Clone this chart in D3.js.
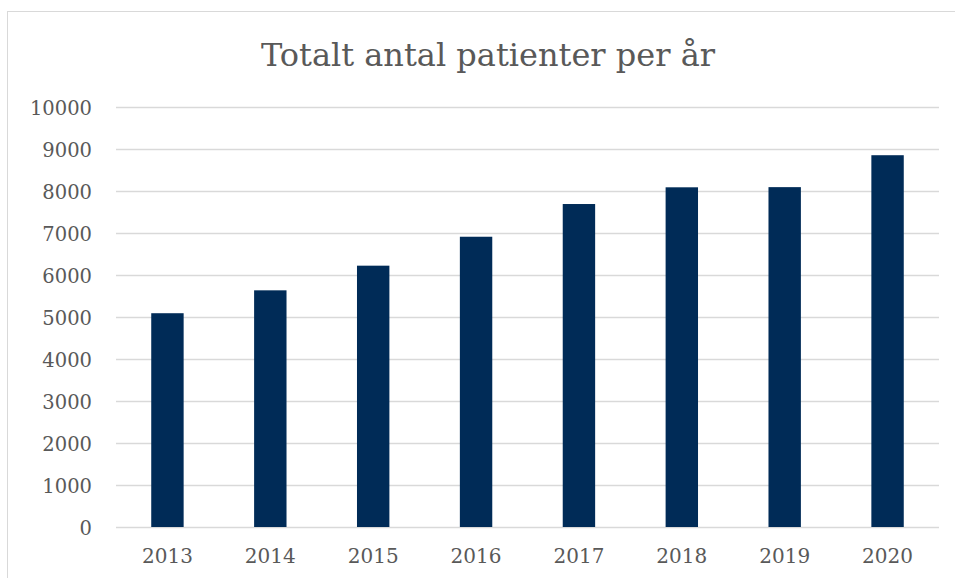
<!DOCTYPE html>
<html>
<head>
<meta charset="utf-8">
<script src="https://cdn.jsdelivr.net/npm/d3@7"></script>
<style>
  body { margin: 0; background: #fff; }
  text { font-family: "DejaVu Serif", "Liberation Serif", serif; fill: #595959; }
</style>
</head>
<body>
<script>
// data
var years = ["2013", "2014", "2015", "2016", "2017", "2018", "2019", "2020"];
var patients = [5090, 5635, 6222, 6911, 7690, 8088, 8092, 8852];
var yTicks = [0, 1000, 2000, 3000, 4000, 5000, 6000, 7000, 8000, 9000, 10000];

var width = 955, height = 578;
var margin = { top: 107, right: 16, bottom: 51, left: 116 };

var svg = d3.select("body")
    .append("svg")
    .attr("width", width)
    .attr("height", height);

// chart frame (runs off the right and bottom edge)
svg.append("rect")
    .attr("x", 7.5)
    .attr("y", 11.5)
    .attr("width", 980)
    .attr("height", 600)
    .attr("fill", "none")
    .attr("stroke", "#d9d9d9");

var x = d3.scaleBand()
    .domain(years)
    .range([margin.left, width - margin.right])
    .paddingInner(0.685)
    .paddingOuter(0.3425);

var y = d3.scaleLinear()
    .domain([0, 10000])
    .range([height - margin.bottom, margin.top]);

// gridlines + y labels
var yAxis = d3.axisLeft(y)
    .tickValues(yTicks)
    .tickSize(-(width - margin.left - margin.right))
    .tickPadding(24)
    .tickFormat(d3.format("d"));

svg.append("g")
    .attr("transform", "translate(" + margin.left + ",0)")
    .call(yAxis)
    .call(function (g) {
        g.select(".domain").remove();
        g.selectAll(".tick line").attr("stroke", "#d9d9d9").attr("stroke-width", 1.3);
        g.selectAll(".tick text")
            .style("font-size", "19.5px")
            .attr("dy", "0.4em")
            .attr("fill", "#595959");
    });

// bars
svg.selectAll(".bar")
    .data(patients)
    .enter()
    .append("rect")
    .attr("class", "bar")
    .attr("x", function (d, i) { return x(years[i]); })
    .attr("width", x.bandwidth())
    .attr("y", function (d) { return y(d); })
    .attr("height", function (d) { return y(0) - y(d); })
    .attr("fill", "#002b57");

// x labels
var xAxis = d3.axisBottom(x).tickSize(0).tickPadding(22);
svg.append("g")
    .attr("transform", "translate(0," + y(0) + ")")
    .call(xAxis)
    .call(function (g) {
        g.select(".domain").remove();
        g.selectAll(".tick text")
            .style("font-size", "20px")
            .attr("fill", "#595959");
    });

// title
svg.append("text")
    .attr("x", 488)
    .attr("y", 66)
    .attr("text-anchor", "middle")
    .style("font-size", "32px")
    .text("Totalt antal patienter per år");
</script>
</body>
</html>
